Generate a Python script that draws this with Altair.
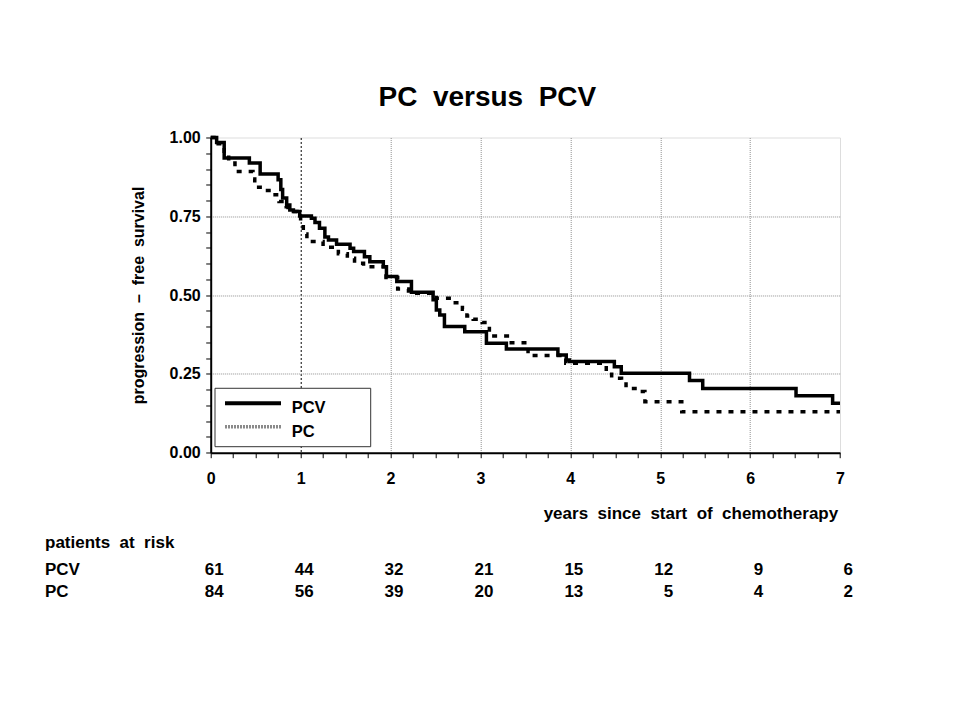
import altair as alt
import pandas as pd

# ---- data ----
groups = ["PCV", "PC"]

pcv_t = [0, 0.066, 0.15, 0.43, 0.55, 0.75, 0.78, 0.80, 0.845, 0.88,
         0.92, 0.99, 1.12, 1.16, 1.21, 1.27, 1.31, 1.40, 1.55, 1.59,
         1.71, 1.77, 1.92, 1.955, 2.07, 2.233, 2.474, 2.51, 2.548, 2.60,
         2.826, 3.067, 3.289, 3.862, 3.955, 3.99, 4.49, 4.567, 5.326, 5.473,
         6.511, 6.918, 7.0]
pcv_s = [1.0, 0.984, 0.935, 0.919, 0.884, 0.866, 0.835, 0.808, 0.786, 0.770,
         0.765, 0.751, 0.744, 0.730, 0.712, 0.684, 0.675, 0.661, 0.649, 0.638,
         0.622, 0.606, 0.590, 0.559, 0.543, 0.509, 0.485, 0.453, 0.437, 0.400,
         0.384, 0.347, 0.329, 0.310, 0.294, 0.289, 0.273, 0.252, 0.229, 0.204,
         0.181, 0.157, 0.157]

pc_t = [0, 0.06, 0.15, 0.20, 0.27, 0.47, 0.49, 0.60, 0.68, 0.76,
        0.84, 0.86, 0.96, 1.0, 1.03, 1.07, 1.25, 1.42, 1.52, 1.60,
        1.70, 1.95, 2.08, 2.20, 2.51, 2.70, 2.80, 2.85, 2.92, 3.02,
        3.10, 3.32, 3.53, 3.95, 4.40, 4.46, 4.57, 4.62, 4.72, 4.83,
        5.24, 7.0]
pc_s = [1.0, 0.98, 0.945, 0.919, 0.892, 0.868, 0.842, 0.832, 0.818, 0.797,
        0.78, 0.765, 0.749, 0.717, 0.694, 0.670, 0.652, 0.631, 0.617, 0.601,
        0.590, 0.556, 0.519, 0.506, 0.49, 0.476, 0.455, 0.434, 0.423, 0.413,
        0.370, 0.349, 0.308, 0.284, 0.257, 0.236, 0.225, 0.204, 0.194, 0.162,
        0.130, 0.130]

risk_years = [0, 1, 2, 3, 4, 5, 6, 7]
risk_pcv = [61, 44, 32, 21, 15, 12, 9, 6]
risk_pc = [84, 56, 39, 20, 13, 5, 4, 2]

x_ticks = [round(i * 0.25, 2) for i in range(29)]
y_ticks = [round(i * 0.05, 2) for i in range(21)]

FONT = "Liberation Sans"
NB = "\u00a0"

pcv_df = pd.DataFrame({"t": pcv_t, "s": pcv_s})
pc_df = pd.DataFrame({"t": pc_t, "s": pc_s})
risk_df = pd.DataFrame({"year": risk_years, "pcv": risk_pcv, "pc": risk_pc})
one = pd.DataFrame({"a": [0]})

x_axis = alt.Axis(
    values=x_ticks,
    labelExpr="datum.value % 1 === 0 ? format(datum.value, 'd') : ''",
    labelFont=FONT, labelFontSize=16, labelFontWeight="bold", labelColor="black",
    labelBaseline="alphabetic", labelPadding=25.5, labelOverlap=False, labelFlush=False,
    tickSize=5, tickColor="black", tickWidth=1,
    domainColor="black", domainWidth=2,
    grid=True, gridWidth=1,
    gridColor={"condition": {"test": "datum.value === 1", "value": "black"}, "value": "#8f8f8f"},
    gridDash={"condition": {"test": "datum.value === 1", "value": [2, 2]}, "value": [1, 1]},
    gridOpacity={"condition": {"test": "datum.value % 1 !== 0 || datum.value === 0 || datum.value === 7",
                               "value": 0}, "value": 1},
    title=f"years{NB} since{NB} start{NB} of{NB} chemotherapy",
    titleFont=FONT, titleFontSize=17, titleFontWeight="bold", titleColor="black",
    titleX=627, titleY=65.6, titleAlign="right", titleBaseline="alphabetic",
)

y_axis = alt.Axis(
    values=y_ticks,
    labelExpr="abs(datum.value*4 - round(datum.value*4)) < 0.001 ? format(datum.value, '.2f') : ''",
    labelFont=FONT, labelFontSize=16, labelFontWeight="bold", labelColor="black",
    labelPadding=5.5, labelOverlap=False, labelFlush=False,
    tickSize=5, tickColor="black", tickWidth=1,
    domainColor="black", domainWidth=2,
    grid=True, gridWidth=1, gridColor="#8f8f8f", gridDash=[1, 1],
    gridOpacity={"condition": {"test": "abs(datum.value*4 - round(datum.value*4)) > 0.001 || datum.value < 0.01 || datum.value > 0.99",
                               "value": 0}, "value": 1},
    title=f"progression{NB} –{NB} free{NB} survival",
    titleFont=FONT, titleFontSize=16, titleFontWeight="bold", titleColor="black",
    titleX=-72, titleY=157.5, titleAngle=270, titleAlign="center", titleBaseline="middle",
)

xs = alt.Scale(domain=[0, 7], nice=False, zero=False)
ys = alt.Scale(domain=[0, 1], nice=False, zero=False)

X = alt.X("t:Q", scale=xs, axis=x_axis)
Y = alt.Y("s:Q", scale=ys, axis=y_axis)

pcv_line = alt.Chart(pcv_df).mark_line(
    interpolate="step-after", color="black", strokeWidth=3.5
).encode(x=X, y=Y)

pc_line = alt.Chart(pc_df).mark_line(
    interpolate="step-after", color="black", strokeWidth=3.5, strokeDash=[5, 7]
).encode(x=X, y=Y)

# legend (drawn inside the plot, lower left)
leg_box = alt.Chart(one).mark_rect(fill="white", stroke="#333", strokeWidth=1).encode(
    x=alt.value(4.3), x2=alt.value(160), y=alt.value(250.8), y2=alt.value(309.2))
leg_pcv = alt.Chart(one).mark_rule(color="black", strokeWidth=4).encode(
    x=alt.value(14.3), x2=alt.value(70.3), y=alt.value(265.8))
leg_pc = alt.Chart(one).mark_rule(color="#8a8a8a", strokeWidth=3.5, strokeDash=[2, 1]).encode(
    x=alt.value(14.3), x2=alt.value(70.3), y=alt.value(289.2))
leg_txt1 = alt.Chart(one).mark_text(
    text=groups[0], font=FONT, fontSize=16.5, fontWeight="bold", color="black",
    align="left", baseline="alphabetic").encode(x=alt.value(81), y=alt.value(275.8))
leg_txt2 = alt.Chart(one).mark_text(
    text=groups[1], font=FONT, fontSize=16.5, fontWeight="bold", color="black",
    align="left", baseline="alphabetic").encode(x=alt.value(81), y=alt.value(299.2))

# patients at risk table
XR = alt.X("year:Q", scale=xs, axis=x_axis)
risk_title = alt.Chart(one).mark_text(
    text=f"patients{NB} at{NB} risk", font=FONT, fontSize=17, fontWeight="bold",
    color="black", align="left", baseline="alphabetic").encode(
    x=alt.value(-165.7), y=alt.value(410.8))
row1 = alt.Chart(one).mark_text(
    text=groups[0], font=FONT, fontSize=17, fontWeight="bold", color="black",
    align="left", baseline="alphabetic").encode(x=alt.value(-165.7), y=alt.value(437.5))
row2 = alt.Chart(one).mark_text(
    text=groups[1], font=FONT, fontSize=17, fontWeight="bold", color="black",
    align="left", baseline="alphabetic").encode(x=alt.value(-165.7), y=alt.value(459.3))
num1 = alt.Chart(risk_df).mark_text(
    font=FONT, fontSize=17, fontWeight="bold", color="black", align="right",
    baseline="alphabetic", dx=13).encode(x=XR, y=alt.value(437.5), text="pcv:Q")
num2 = alt.Chart(risk_df).mark_text(
    font=FONT, fontSize=17, fontWeight="bold", color="black", align="right",
    baseline="alphabetic", dx=13).encode(x=XR, y=alt.value(459.3), text="pc:Q")

chart = alt.layer(
    pcv_line, pc_line, leg_box, leg_pcv, leg_pc, leg_txt1, leg_txt2,
    risk_title, row1, row2, num1, num2
).properties(
    width=629.3, height=315.2,
    title=alt.TitleParams(
        f"PC{NB} versus{NB} PCV", font=FONT, fontSize=28, fontWeight="bold",
        color="black", anchor="middle", frame="group", dx=-38, dy=35,
        baseline="alphabetic", offset=30),
    autosize="none",
    padding={"left": 202.7, "top": 129.5, "right": 110, "bottom": 260},
).configure_view(
    stroke="#222", strokeWidth=1.5
).configure(background="white")

chart.save("out.html", embed_options={"renderer": "svg", "actions": False})
